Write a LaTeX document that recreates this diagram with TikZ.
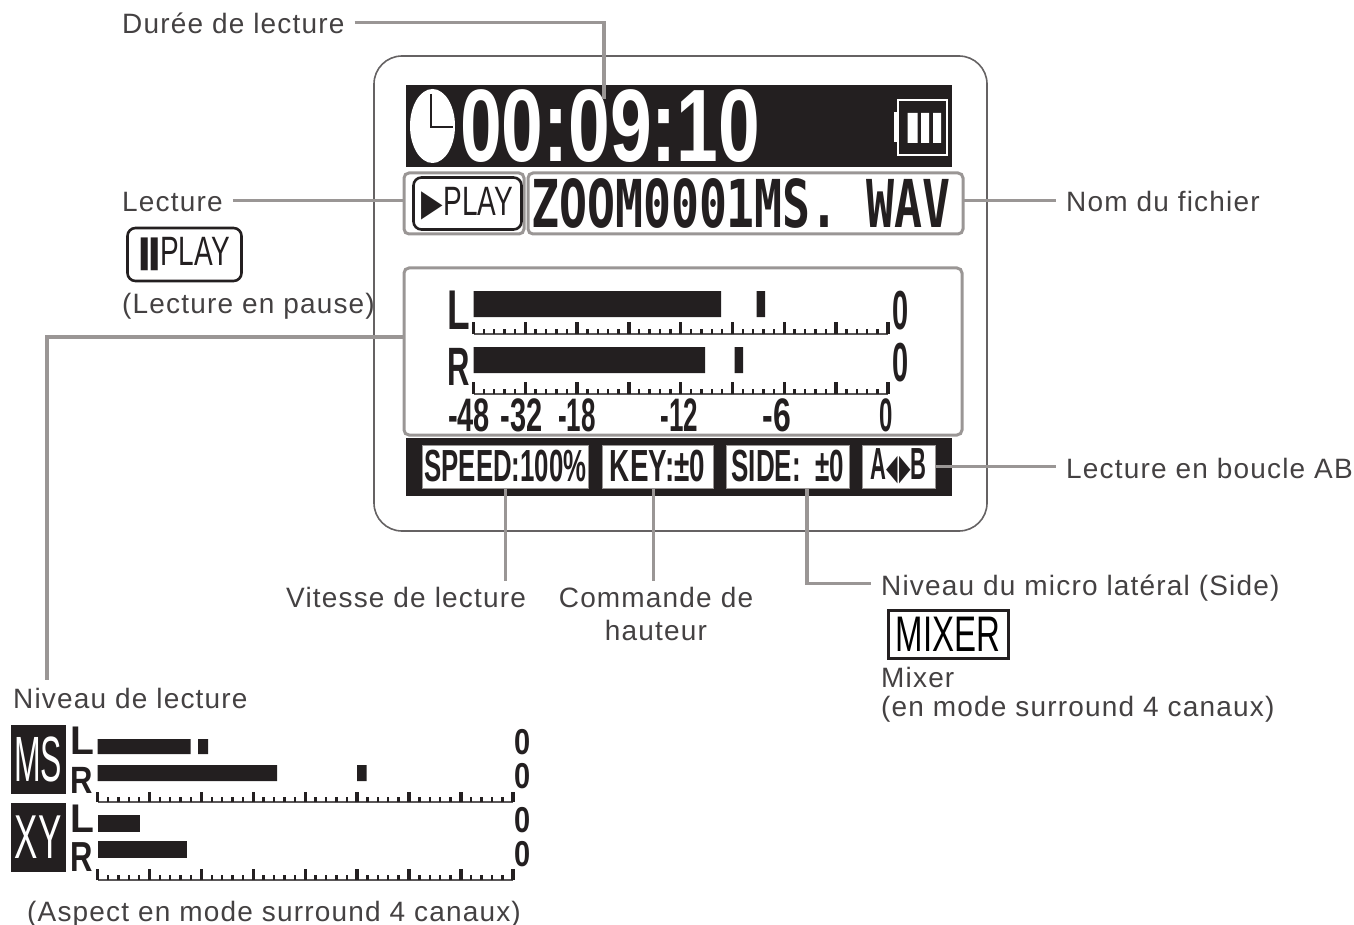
\documentclass[tikz,border=0pt]{standalone}
\usepackage{fontspec}
\usepackage{graphicx}
\setmainfont[LetterSpace=4.2]{Liberation Sans}
\newfontfamily\lcdfont{Liberation Sans}
\newfontfamily\lcdmono{DejaVu Sans Mono}
\newfontfamily\symfont{DejaVu Sans}
\newcommand{\lcd}[3]{\scalebox{#1}[#2]{\lcdfont\bfseries #3}}
\newcommand{\lcdthin}[3]{\scalebox{#1}[#2]{\lcdfont #3}}
\definecolor{ink}{HTML}{231F20}
\definecolor{leadgray}{HTML}{9A9695}
\tikzset{
  label/.style={inner sep=0, anchor=base west, text=ink!85, text height=23pt, text depth=0pt, font=\fontsize{28}{28}\selectfont},
  leader/.style={draw=leadgray, line width=3.6pt},
  panel/.style={fill=ink, draw=none, inner sep=0, outer sep=0, anchor=north west},
  framebox/.style={draw=leadgray, line width=3pt, rounded corners=5pt, inner sep=0, outer sep=0, anchor=north west},
  softkey/.style={draw=leadgray, line width=1pt, fill=white, inner sep=0, outer sep=0, text=ink, anchor=north west},
  lcdtext/.style={inner sep=0, text=ink},
  playshape/.style={draw=ink, line width=2.6pt, rounded corners=8pt, fill=white, inner sep=0, outer sep=0, text=ink, anchor=north west}
}
\begin{document}
\begin{tikzpicture}[x=1pt,y=-1pt]
  \useasboundingbox (0,0) rectangle (1354,925);

  % device outline
  \draw[color=ink!70, line width=1.6pt, rounded corners=28pt] (374,56) rectangle (987,531);

  % time display
  \node[panel, minimum width=546.5pt, minimum height=82pt] (timer) at (405.5,85) {};
  \fill[white] (432.5,126) ellipse (22.5 and 37);
  \draw[ink, line width=2pt] (431,94) -- (431,127) -- (453,127);
  \node[inner sep=0, anchor=west, text=white] (clock) at (460,126) {\lcd{7.5}{10.3}{00:09:10}};
  \draw[white, line width=2.4pt] (898,100) rectangle (947,155);
  \draw[white, line width=3pt] (895,112) -- (895,142);
  \fill[white] (907.5,113) rectangle (917.5,143) (921,113) rectangle (929,143) (933,113) rectangle (941,143);

  % play state and file name
  \node[framebox, minimum width=120pt, minimum height=61pt] (playbox) at (404,173) {};
  \node[playshape, minimum width=108pt, minimum height=52pt] (playicon) at (413.5,177.5)
    {\scalebox{2.8}[3.7]{\symfont ▶}\lcdthin{2.8}{4.1}{PLAY}};
  \node[framebox, minimum width=435pt, minimum height=61pt] (filebox) at (528,173)
    {\hspace*{-9pt}\scalebox{4.65}[6.6]{\lcdmono\bfseries\color{ink} ZOOM0001MS. WAV}};

  % level meter
  \node[framebox, minimum width=558pt, minimum height=167pt] (levelbox) at (404,268) {};
  \node[lcdtext] (chl) at (458.5,310) {\lcd{3.7}{5.6}{L}};
  \node[lcdtext] (chr) at (458.5,367) {\lcd{3.1}{5.4}{R}};
  \fill[ink] (473.5,291) rectangle (721,317) (756.5,291) rectangle (765,317);
  \fill[ink] (473.5,347) rectangle (705,373) (734.5,347) rectangle (743,373);
  \node[lcdtext] (zerol) at (900.5,310.5) {\lcd{2.9}{5.5}{0}};
  \node[lcdtext] (zeror) at (900.5,362.5) {\lcd{2.9}{5.5}{0}};
  \node[lcdtext] (dbfour) at (469,415) {\lcd{2.9}{4.7}{-48}};
  \node[lcdtext] (dbthree) at (521.5,415) {\lcd{2.9}{4.7}{-32}};
  \node[lcdtext] (dbone) at (577,415) {\lcd{2.6}{4.7}{-18}};
  \node[lcdtext] (dbtwelve) at (679.5,415) {\lcd{2.6}{4.7}{-12}};
  \node[lcdtext] (dbsix) at (777,415) {\lcd{3.2}{4.7}{-6}};
  \node[lcdtext] (dbzero) at (886,415) {\lcd{2.4}{4.7}{0}};

  % meter scales
  \foreach \sx/\sy/\sp/\st in {473.5/334/10.36/12, 473.5/394/10.36/12, 97.6/802/10.38/10, 97.6/880/10.38/11} {
    \draw[ink!75, line width=1.2pt] (\sx,\sy) -- +(41*\sp-\sp,0);
    \foreach \i in {0,...,40}
      \draw[ink, line width=2.4pt] ({\sx+\i*\sp},\sy) -- +(0,-5);
    \foreach \i in {0,...,8}
      \draw[ink, line width=3.4pt] ({\sx+5*\i*\sp},\sy) -- +(0,-\st);
  }

  % bottom soft keys
  \node[panel, minimum width=546.5pt, minimum height=58pt] (keybar) at (405.5,438) {};
  \node[softkey, minimum width=166pt, minimum height=43pt] (speed) at (422.5,445) {\lcd{2.58}{4.5}{SPEED:100\%}};
  \node[softkey, minimum width=111pt, minimum height=43pt] (key) at (602,445) {\lcd{2.78}{4.5}{KEY:±0}};
  \node[softkey, minimum width=123.5pt, minimum height=43pt] (side) at (726,445) {\lcd{2.6}{4.5}{SIDE:\ \ ±0}};
  \node[softkey, minimum width=73pt, minimum height=43pt] (loopab) at (862,445)
    {\lcd{2.2}{4.5}{A}\scalebox{1.5}[3.6]{\symfont\color{ink} ◀}\kern1pt\scalebox{1.5}[3.6]{\symfont\color{ink} ▶}\lcd{2.2}{4.5}{B}};

  % labels
  \node[label] (duree) at (122,34) {Durée de lecture};
  \node[label] (lecture) at (122,212) {Lecture};
  \node[playshape, minimum width=114pt, minimum height=53pt] (pauseicon) at (127.5,228)
    {\scalebox{1.9}[4.3]{\symfont ▮▮}\lcdthin{2.8}{4.1}{PLAY}};
  \node[label] (pause) at (122,313) {(Lecture en pause)};
  \node[label] (nom) at (1066,212) {Nom du fichier};
  \node[label] (boucle) at (1066,478) {Lecture en boucle AB};
  \node[label] (vitesse) at (286,607) {Vitesse de lecture};
  \node[label, anchor=base] (commande) at (656,607) {Commande de};
  \node[label, anchor=base] (hauteur) at (656,640) {hauteur};
  \node[label] (micro) at (881,595) {Niveau du micro latéral (Side)};
  \node[draw=ink, line width=3pt, inner sep=0, outer sep=0, minimum width=120pt, minimum height=48pt, anchor=north west] (mixerbox) at (888,610)
    {\lcdthin{3.3}{5}{MIXER}};
  \node[label] (mixer) at (881,687) {Mixer};
  \node[label] (surround) at (881,716) {(en mode surround 4 canaux)};
  \node[label] (niveau) at (13,708) {Niveau de lecture};
  \node[label] (aspect) at (27,921) {(Aspect en mode surround 4 canaux)};

  % surround meters
  \node[panel, minimum width=54.5pt, minimum height=69pt, text=white] (msbox) at (11,725) {\lcdthin{3.2}{6.4}{MS}};
  \node[panel, minimum width=54.5pt, minimum height=69pt, text=white] (xybox) at (11,803) {\lcdthin{3.5}{6.2}{XY}};
  \node[lcdtext] (msl) at (82,741) {\lcd{3.9}{4}{L}};
  \node[lcdtext] (msr) at (82,780) {\lcd{3.1}{3.8}{R}};
  \node[lcdtext] (xyl) at (82,819) {\lcd{3.9}{4}{L}};
  \node[lcdtext] (xyr) at (82,857) {\lcd{3.1}{4.2}{R}};
  \fill[ink] (97.6,739) rectangle (190.7,754) (198,739) rectangle (208,754);
  \fill[ink] (97.6,765) rectangle (277,781) (357,765) rectangle (366.5,781);
  \fill[ink] (97.6,815) rectangle (140,832);
  \fill[ink] (97.6,841) rectangle (187,858);
  \foreach \zy/\zn in {742/a, 776/b, 820.5/c, 854/d}
    \node[lcdtext] (zero\zn) at (522.5,\zy) {\lcd{2.9}{3.6}{0}};

  % connectors
  \coordinate (timepoint) at (604,99);
  \coordinate (levelstart) at (404,337);
  \coordinate (levelend) at (47,680);
  \draw[leader] ([xshift=10pt]duree.east) -| (timepoint);
  \draw[leader] ([xshift=10pt]lecture.east) -- (lecture.east -| playbox.west);
  \draw[leader] (nom.west -| filebox.east) -- ([xshift=-10pt]nom.west);
  \draw[leader] (levelstart) -| (levelend);
  \draw[leader] (boucle.west -| loopab.east) -- ([xshift=-10pt]boucle.west);
  \draw[leader] (speed.south) -- ([yshift=3pt]speed.south |- vitesse.north);
  \draw[leader] ([xshift=-4pt]key.south) -- ([xshift=-4pt,yshift=3pt]key.south |- commande.north);
  \draw[leader] ([xshift=19pt]side.south) |- ([xshift=-10pt]micro.west);
\end{tikzpicture}
\end{document}
